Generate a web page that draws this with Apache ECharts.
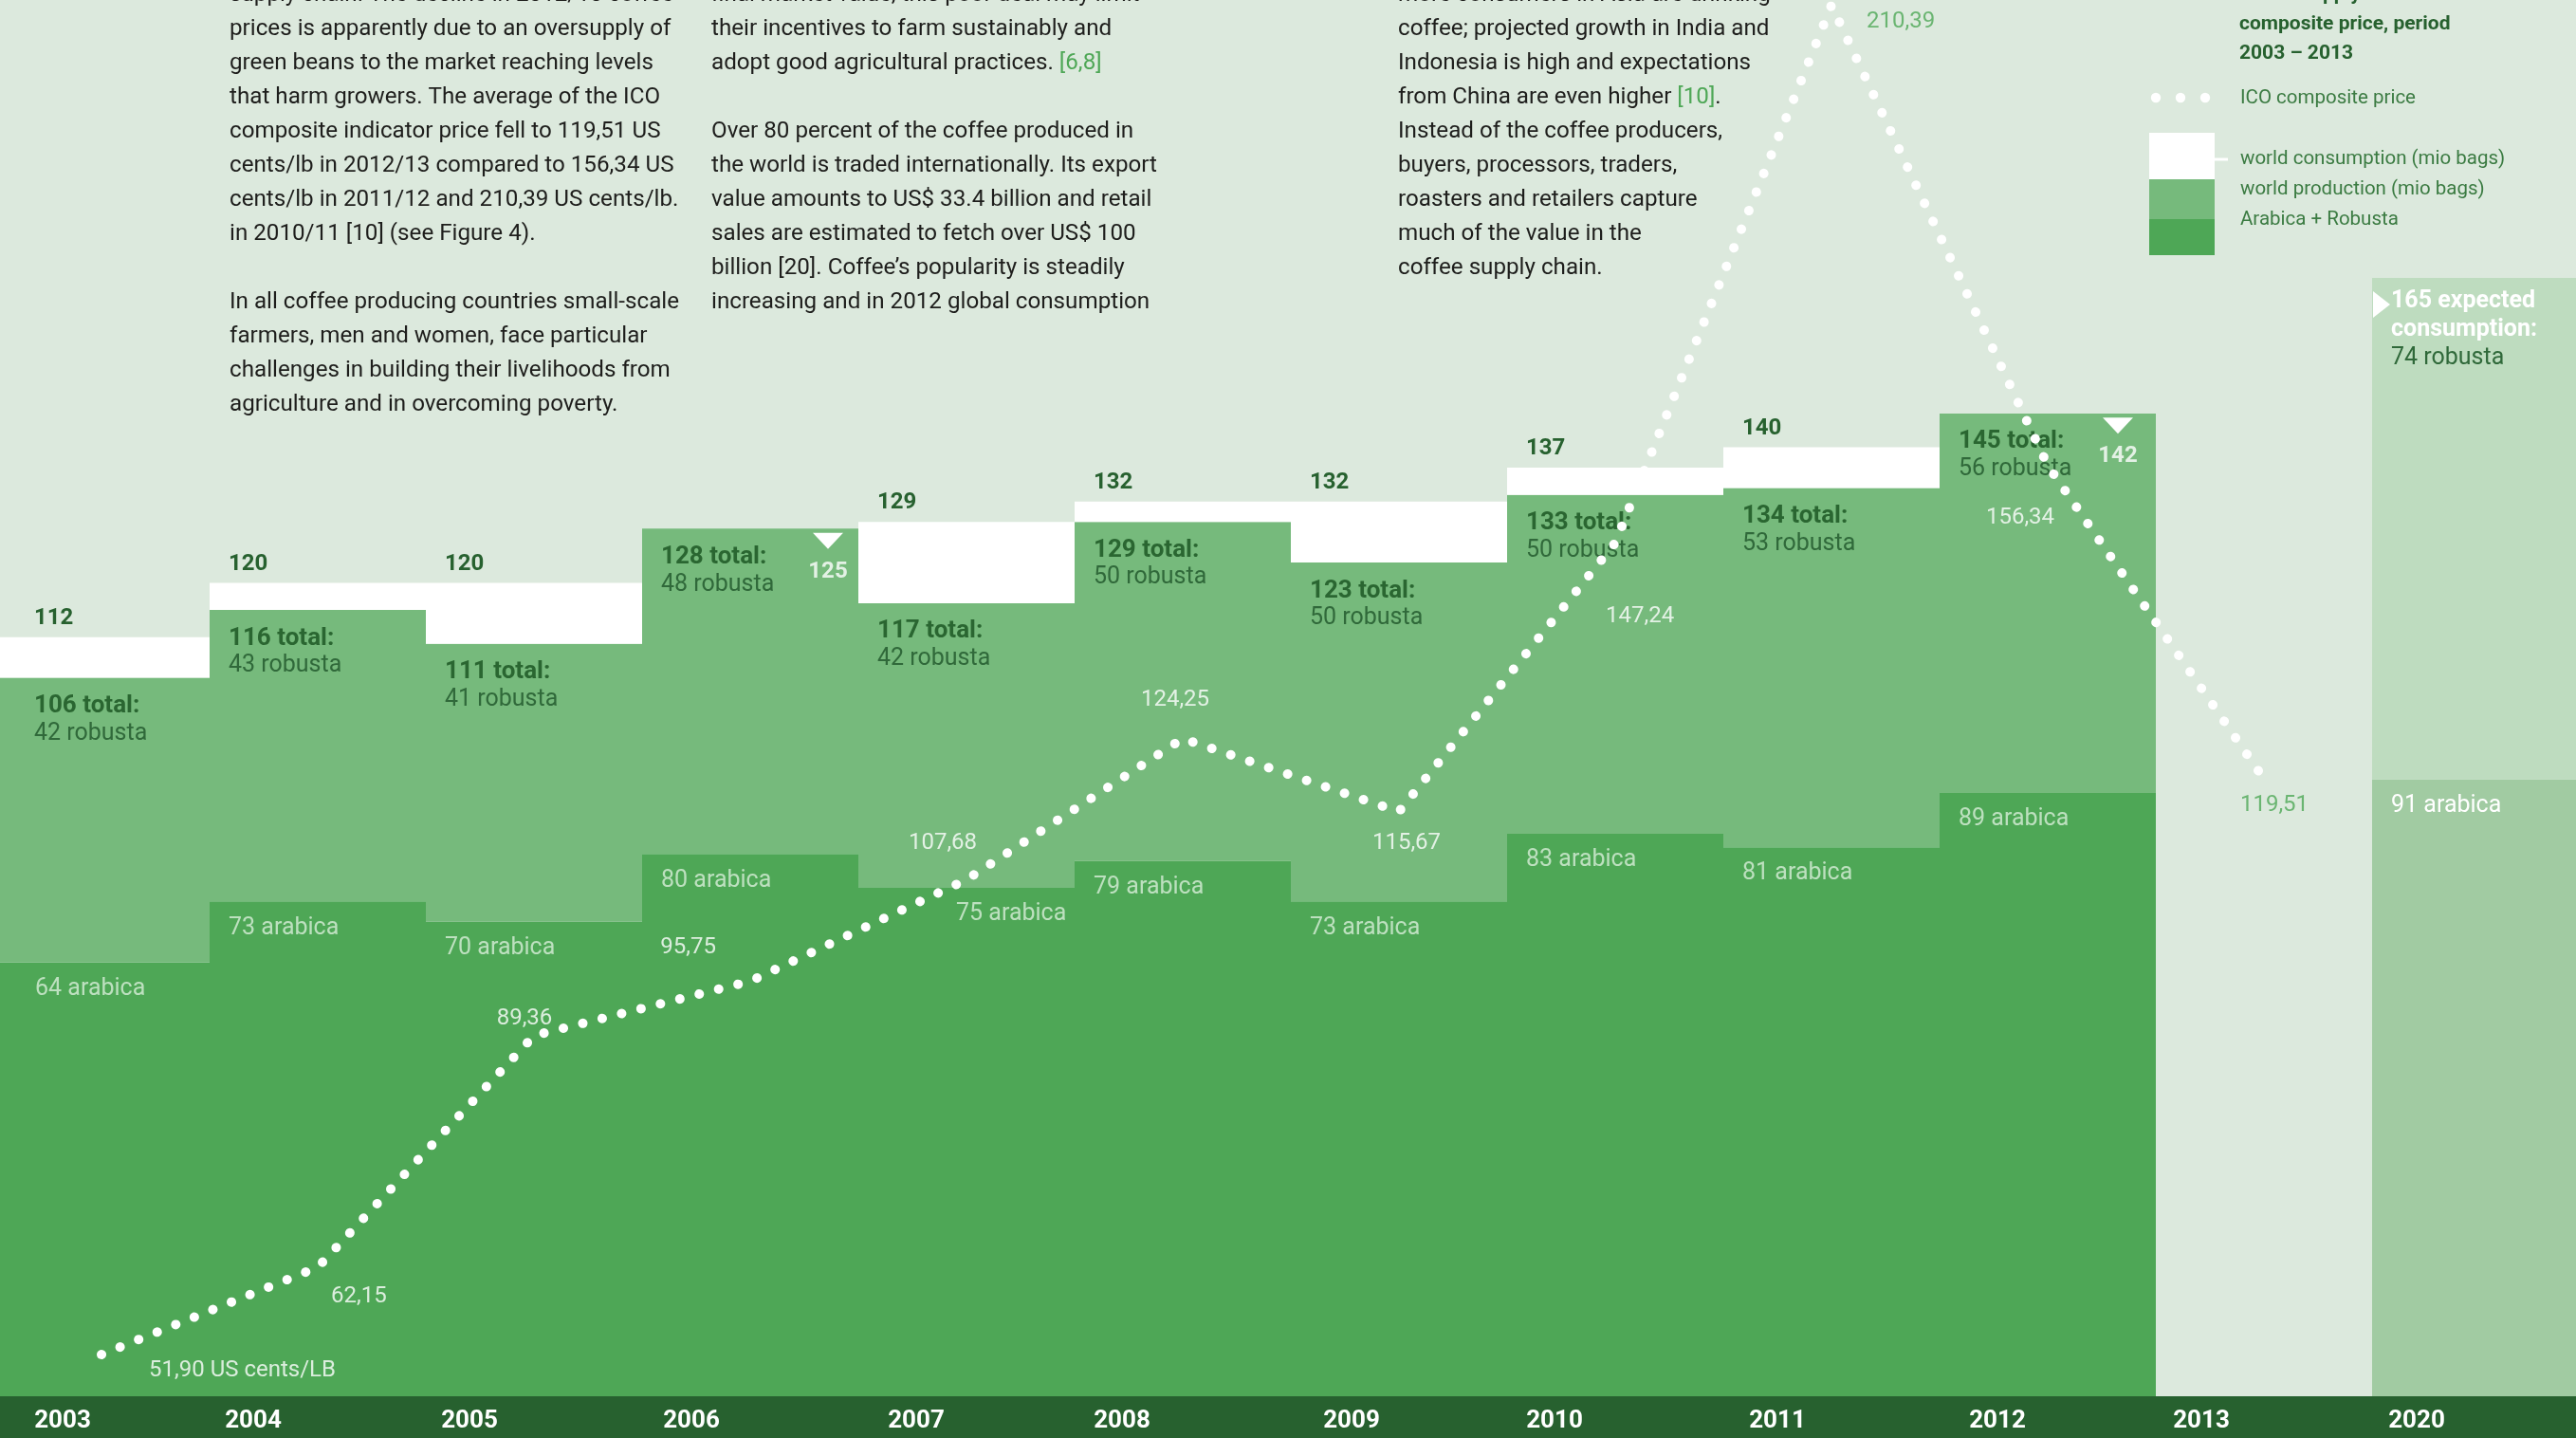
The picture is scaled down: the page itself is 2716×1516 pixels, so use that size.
<!DOCTYPE html>
<html>
<head>
<meta charset="utf-8">
<script src="https://cdn.jsdelivr.net/npm/echarts@6/dist/echarts.min.js"></script>
<style>
html,body{margin:0;padding:0;background:#DCE9DD;}
#c{width:2716px;height:1516px;}
</style>
</head>
<body>
<div id="c"></div>
<script>
// ---------------- data ----------------
const years       = ['2003','2004','2005','2006','2007','2008','2009','2010','2011','2012','2013','2020'];
const consumption = [112, 120, 120, 125, 129, 132, 132, 137, 140, 142, null, 165];
const production  = [106, 116, 111, 128, 117, 129, 123, 133, 134, 145, null, null];
const robusta     = [42, 43, 41, 48, 42, 50, 50, 50, 53, 56, null, 74];
const arabica     = [64, 73, 70, 80, 75, 79, 73, 83, 81, 89, null, 91];
const price       = [51.90, 62.15, 89.36, 95.75, 107.68, 124.25, 115.67, 147.24, 210.39, 156.34, 119.51, null];
const FORECAST = 11;   // index of the 2020 (expected) column

// ---------------- styles ----------------
const FONT = 'Roboto';
const C_BG = '#DCE9DD', C_ARA = '#4EA756', C_ROB = '#76BA7C', C_DARK = '#27612F';
const C_ARA_F = '#A1CBA2', C_ROB_F = '#BEDCBF';
const C_TXT = '#1E1E1C', C_GREEN_TXT = '#4EA756', C_LEG = '#3B7B42';

// axis band: the band is 44px tall below value 0 (grid spans the full height)
const H = 1516, BAND = 44, PLOT = H - BAND;
const Y_MAX = 206, P_MIN = 47, P_MAX = 211;
const Y_MIN = -BAND * Y_MAX / PLOT;                       // value 0 sits on top of the band
const P_AXIS_MIN = P_MIN - BAND * (P_MAX - P_MIN) / PLOT;  // same for the price scale

const padX = i => (i === 0 ? 43 : 20);
const araPadX = i => (i === 0 ? 44 : (i === 4 ? 103 : 20));
// horizontal shift of each year label (rich padding on the right, style only)
const yearPad = [82, 136, 136, 124, 106, 128, 100, 128, 114, 106, 132, 134];

// price label placement (style only)
const priceLblStyle = [
  {align:'left',   off:[50, 17]},
  {align:'left',   off:[14, 31]},
  {align:'center', off:[-10, -18]},
  {align:'right',  off:[-36, -35]},
  {align:'center', off:[-25, -38]},
  {align:'center', off:[-8, -41]},
  {align:'center', off:[8, 33]},
  {align:'left',   off:[-10, 78]},
  {align:'left',   off:[37, 18], color:C_GREEN_TXT},
  {align:'center', off:[-29, 55]},
  {align:'center', off:[11, 28], color:C_GREEN_TXT}
];
const fmtPrice = v => v.toFixed(2).replace('.', ',');

// derived series
const gap = consumption.map((c, i) => (c != null && production[i] != null && c > production[i]) ? c - production[i] : '-');
const under = consumption.map((c, i) => (c != null && production[i] != null && c < production[i]) ? c : '-');
const triOff = {3: 82, 9: 74};

const chart = echarts.init(document.getElementById('c'), null, {renderer:'canvas'});

// ---------------- text blocks ----------------
const col1 = [
  'supply chain. The decline in 2012/13 coffee',
  'prices is apparently due to an oversupply of',
  'green beans to the market reaching levels',
  'that harm growers. The average of the ICO',
  'composite indicator price fell to 119,51 US',
  'cents/lb in 2012/13 compared to 156,34 US',
  'cents/lb in 2011/12 and 210,39 US cents/lb.',
  'in 2010/11 [10] (see Figure 4).',
  '',
  'In all coffee producing countries small-scale',
  'farmers, men and women, face particular',
  'challenges in building their livelihoods from',
  'agriculture and in overcoming poverty.'
];
const col2 = [
  'final market value, this poor deal may limit',
  'their incentives to farm sustainably and',
  'adopt good agricultural practices. {g|[6,8]}',
  '',
  'Over 80 percent of the coffee produced in',
  'the world is traded internationally. Its export',
  'value amounts to US$ 33.4 billion and retail',
  'sales are estimated to fetch over US$ 100',
  'billion [20]. Coffee\u2019s popularity is steadily',
  'increasing and in 2012 global consumption'
];
const col3 = [
  'more consumers in Asia are drinking',
  'coffee; projected growth in India and',
  'Indonesia is high and expectations',
  'from China are even higher {g|[10]}.',
  'Instead of the coffee producers,',
  'buyers, processors, traders,',
  'roasters and retailers capture',
  'much of the value in the',
  'coffee supply chain.'
];
const legendTitle = ['coffee supply and ICO', 'composite price, period', '2003 \u2013 2013'];

const BODY = 24.2;
const graphics = [];
function addColumn(lines, x) {
  lines.forEach((t, k) => {
    if (!t) return;
    graphics.push({
      type:'text', x:x, y:-4.6 + k * 35.95, silent:true,
      style:{text:t, fill:C_TXT, fontSize:BODY, fontFamily:FONT, verticalAlign:'middle', align:'left',
             rich:{g:{fill:C_GREEN_TXT, fontSize:BODY, fontFamily:FONT}}}
    });
  });
}
addColumn(col1, 242);
addColumn(col2, 750);
addColumn(col3, 1474);
legendTitle.forEach((t, k) => {
  graphics.push({type:'text', x:2361, y:-5 + k * 31, silent:true,
    style:{text:t, fill:C_DARK, fontSize:21, fontWeight:'bold', fontFamily:FONT, verticalAlign:'middle'}});
});
// legend
[2273, 2299, 2325].forEach(cx => graphics.push({type:'circle', silent:true, shape:{cx:cx, cy:103, r:5.2}, style:{fill:'#FFFFFF'}}));
graphics.push({type:'rect', silent:true, shape:{x:2266, y:140, width:69, height:49}, style:{fill:'#FFFFFF'}});
graphics.push({type:'rect', silent:true, shape:{x:2266, y:189, width:69, height:42}, style:{fill:C_ROB}});
graphics.push({type:'rect', silent:true, shape:{x:2266, y:231, width:69, height:38}, style:{fill:C_ARA}});
graphics.push({type:'line', silent:true, shape:{x1:2335, y1:168, x2:2349, y2:168}, style:{stroke:'#FFFFFF', lineWidth:3}});
[['ICO composite price', 104], ['world consumption (mio bags)', 168], ['world production (mio bags)', 200], ['Arabica + Robusta', 232]]
  .forEach(([t, y]) => graphics.push({type:'text', x:2362, y:y, silent:true,
    style:{text:t, fill:C_LEG, fontSize:20.5, fontFamily:FONT, verticalAlign:'middle'}}));

const yearRich = {};
yearPad.forEach((p, i) => {
  yearRich['y' + i] = {color:'#FFFFFF', fontWeight:'bold', fontSize:26, fontFamily:FONT, padding:[0, p, 0, 0]};
});

// ---------------- option ----------------
const option = {
  backgroundColor: C_BG,
  animation: false,
  textStyle: {fontFamily: FONT},
  grid: {left:-7, right:-13, top:0, bottom:0, containLabel:false, outerBoundsMode:'none'},
  xAxis: [{
    type:'category', data: years, position:'bottom',
    axisLine:{show:true, onZero:false, lineStyle:{color:C_DARK, width:BAND * 2}},
    axisTick:{show:false}, splitLine:{show:false},
    axisLabel:{
      interval:0, inside:true, margin:BAND / 2 - 4, verticalAlign:'middle', hideOverlap:false,
      formatter:(v, i) => '{y' + i + '|' + v + '}',
      rich: yearRich
    }
  }],
  yAxis: [
    {type:'value', min:Y_MIN, max:Y_MAX, show:false, splitLine:{show:false}},
    {type:'value', min:P_AXIS_MIN, max:P_MAX, show:false, splitLine:{show:false}}
  ],
  graphic: graphics,
  series: [
    {
      type:'bar', name:'Arabica', stack:'prod', barCategoryGap:'0%', barGap:'0%', silent:true,
      itemStyle:{color:C_ARA},
      label:{show:true, fontSize:25, fontFamily:FONT, lineHeight:25, color:'#BDE0BF',
             formatter:p => arabica[p.dataIndex] + ' arabica'},
      data: arabica.map((v, i) => v == null ? '-' : {
        value:v,
        itemStyle:{color: i === FORECAST ? C_ARA_F : C_ARA},
        label:{position:[araPadX(i), 15.5], color: i === FORECAST ? '#FFFFFF' : '#BDE0BF'}
      })
    },
    {
      type:'bar', name:'Robusta', stack:'prod', silent:true,
      itemStyle:{color:C_ROB},
      label:{show:true,
        formatter:p => {
          const i = p.dataIndex;
          if (i === FORECAST) return '{w|' + consumption[i] + ' expected}\n{w|consumption:}\n{r|' + robusta[i] + ' robusta}';
          return '{b|' + production[i] + ' total:}\n{r|' + robusta[i] + ' robusta}';
        },
        rich:{
          b:{fontFamily:FONT, fontWeight:'bold', fontSize:26, color:'#2A6631', lineHeight:29},
          r:{fontFamily:FONT, fontSize:25, color:'#30693A', lineHeight:29},
          w:{fontFamily:FONT, fontWeight:'bold', fontSize:25, color:'#FFFFFF', lineHeight:30}
        }
      },
      data: robusta.map((v, i) => v == null ? '-' : {
        value:v,
        itemStyle:{color: i === FORECAST ? C_ROB_F : C_ROB},
        label:{position:[padX(i), i === FORECAST ? 10 : 15.5]}
      })
    },
    {
      type:'bar', name:'Consumption', stack:'prod', silent:true,
      itemStyle:{color:'#FFFFFF'},
      label:{show:true, fontFamily:FONT, fontWeight:'bold', fontSize:24, lineHeight:24, color:C_DARK,
             formatter:p => String(consumption[p.dataIndex])},
      data: gap.map((v, i) => v === '-' ? '-' : {value:v, label:{position:[padX(i), -32]}})
    },
    {
      type:'scatter', name:'Consumption marker', silent:true, z:4,
      symbol:'triangle', symbolRotate:180, symbolSize:[32, 17],
      itemStyle:{color:'#FFFFFF', opacity:1},
      data: under.map((v, i) => v === '-' ? '-' : {value:v, symbolOffset:[triOff[i], -8.5]})
    },
    {
      type:'scatter', name:'Consumption marker label', silent:true, z:4,
      symbolSize:1, itemStyle:{color:'rgba(0,0,0,0)'},
      label:{show:true, position:'inside', fontFamily:FONT, fontWeight:'bold', fontSize:24, color:'#FFFFFF',
             formatter:p => String(consumption[p.dataIndex])},
      data: under.map((v, i) => v === '-' ? '-' : {value:v, label:{offset:[triOff[i], 24]}})
    },
    {
      type:'scatter', name:'Expected marker', silent:true, z:4,
      symbol:'triangle', symbolRotate:-90, symbolSize:[28, 18],
      itemStyle:{color:'#FFFFFF', opacity:1},
      data: consumption.map((v, i) => i === FORECAST ? {value:v, symbolOffset:[-104, 28]} : '-')
    },
    {
      type:'line', name:'ICO composite price', yAxisIndex:1, z:5, silent:true,
      symbol:'none', smooth:false, connectNulls:false,
      lineStyle:{color:'#FFFFFF', width:10, type:[0.1, 21], cap:'round', join:'round'},
      data: price.map(v => v == null ? '-' : v)
    },
    {
      type:'scatter', name:'price labels', yAxisIndex:1, z:6, silent:true,
      symbolSize:1, itemStyle:{color:'rgba(0,0,0,0)'},
      label:{show:true, position:'inside', fontFamily:FONT, fontSize:24, color:'#FFFFFF',
             formatter:p => fmtPrice(price[p.dataIndex]) + (p.dataIndex === 0 ? ' US cents/LB' : '')},
      data: price.map((v, i) => v == null ? '-' : {
        value:v,
        label:{align:priceLblStyle[i].align, offset:priceLblStyle[i].off, color:priceLblStyle[i].color || '#FFFFFF'}
      })
    }
  ]
};
chart.setOption(option);
</script>
</body>
</html>
